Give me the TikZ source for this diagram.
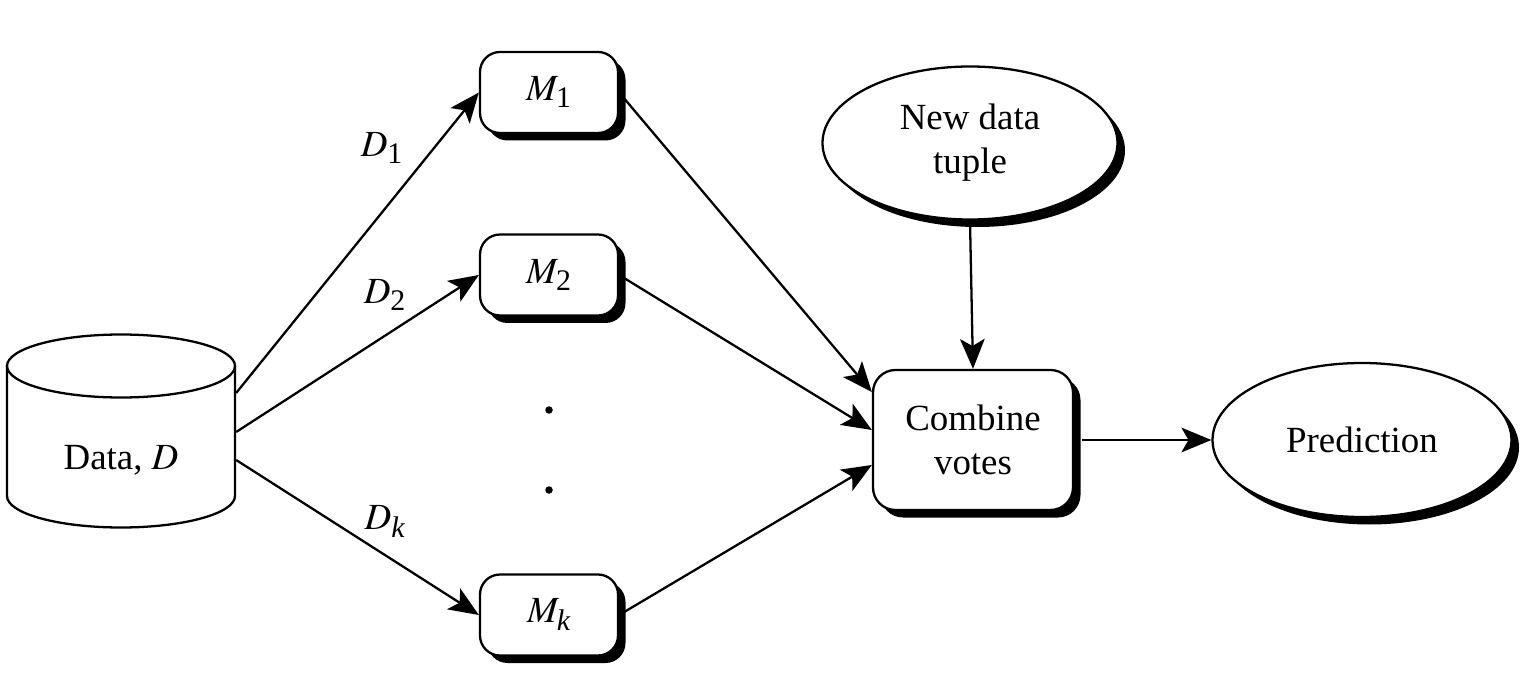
\documentclass[tikz,border=0pt]{standalone}
\usepackage{mathptmx}
\usepackage{fontspec}
\setmainfont{Liberation Serif}
\usetikzlibrary{shapes.geometric, shadows, arrows.meta}

\def \modelx {10.98}
\def \shadowsep {0.15cm}
\newcommand{\idx}[1]{\mbox{\fontsize{17}{17}\selectfont #1}}
\tikzstyle{shade}=[drop shadow={shadow xshift=\shadowsep, shadow yshift=-\shadowsep, fill=black, opacity=1}]
\tikzstyle{model}=[rectangle, draw, fill=white, rounded corners=0.4cm, minimum width=2.76cm, minimum height=1.62cm, shade]
\tikzstyle{blob}=[ellipse, draw, fill=white, inner sep=0pt, align=center, shade]
\tikzstyle{dot}=[circle, fill, inner sep=0pt, minimum size=0.15cm]

\begin{document}
\begin{tikzpicture}[line width=1.3pt, >={Stealth[length=17pt, width=14pt, inset=4pt]},
    font=\fontsize{21}{25}\selectfont]

\useasboundingbox (0, 0) rectangle (30.44, 13.5);

\draw (0.14, 6.18) -- (0.14, 3.58) arc[start angle=180, end angle=360, x radius=2.28, y radius=0.63] -- (4.70, 6.18);
\draw (2.42, 6.18) ellipse [x radius=2.28, y radius=0.63];
\node[minimum width=4.56cm, inner sep=0pt] (D) at (2.42, 4.3) {Data, $D$};

\foreach \i/\t/\y in {1/1/11.65, 2/2/8.0, k/\itshape k/1.2}
    \node[model] (M\i) at (\modelx, \y) {$M_{\idx{\t}}$};

\node[dot] (v1) at (\modelx, 5.3) {};
\node[dot] (v2) at (\modelx, 3.7) {};

\node[model, rounded corners=0.45cm, minimum width=4cm, minimum height=2.8cm, align=center] (C) at (19.46, 4.7) {Combine\\votes};
\node[blob, minimum width=5.9cm, minimum height=3.06cm] (N) at (19.4, 10.64) {New data\\tuple};
\node[blob, minimum width=5.98cm, minimum height=3.08cm] (P) at (27.24, 4.7) {Prediction};

\foreach \i/\t/\s/\lx/\ly in {1/1/1.34/7.64/10.54, 2/2/0.56/7.7/7.6, k/\itshape k/0/7.7/3.06} {
    \draw[->] ([yshift=\s cm]D.east) -- (M\i.west);
    \node (L\i) at (\lx, \ly) {$D_{\idx{\t}}$};
}

\foreach \i/\s in {1/0.96, 2/0.2, k/-0.5}
    \draw[->] (M\i.east) -- ([yshift=\s cm]C.west);

\draw[->] (N.south) -- (C.north);
\draw[->] ([xshift=\shadowsep]C.east) -- (P.west);

\end{tikzpicture}
\end{document}
